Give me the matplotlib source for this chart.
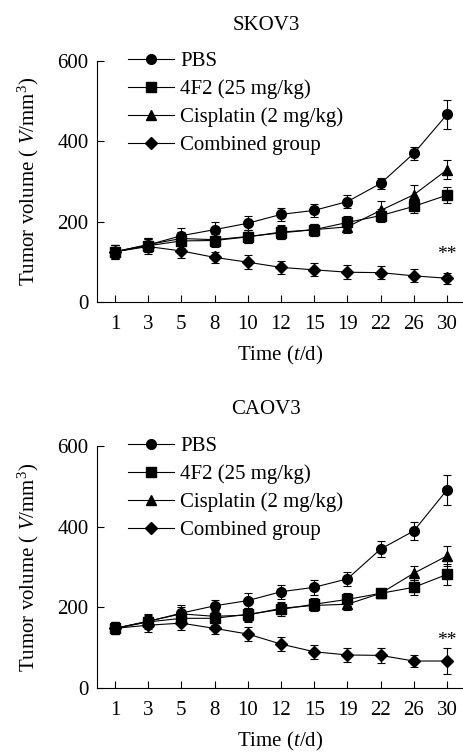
import matplotlib.pyplot as plt

plt.rcParams['font.family'] = 'Liberation Serif'
plt.rcParams['mathtext.fontset'] = 'custom'
plt.rcParams['mathtext.rm'] = 'Liberation Serif'
plt.rcParams['mathtext.it'] = 'Liberation Serif:italic'

days = ['1', '3', '5', '8', '10', '12', '15', '19', '22', '26', '30']
groups = ['PBS', '4F2 (25 mg/kg)', 'Cisplatin (2 mg/kg)', 'Combined group']
markers = ['o', 's', '^', 'D']
msizes = [7, 7, 7.5, 6.5]

# SKOV3
skov3_mean = [
    [125, 142, 165, 180, 196, 218, 228, 250, 295, 370, 467],
    [125, 140, 152, 153, 162, 174, 180, 198, 215, 238, 266],
    [125, 143, 158, 155, 163, 172, 180, 187, 228, 267, 329],
    [125, 138, 127, 111, 99, 86, 80, 74, 73, 65, 59],
]
skov3_err = [
    [18, 18, 18, 18, 17, 16, 16, 17, 14, 16, 36],
    [16, 16, 17, 16, 16, 17, 15, 15, 16, 17, 19],
    [16, 16, 17, 16, 16, 16, 15, 16, 24, 25, 24],
    [18, 18, 18, 14, 17, 17, 16, 18, 16, 16, 14],
]

# CAOV3
caov3_mean = [
    [148, 165, 186, 204, 217, 239, 250, 271, 345, 390, 492],
    [148, 164, 173, 173, 183, 195, 208, 220, 235, 250, 282],
    [148, 166, 184, 178, 181, 198, 205, 208, 235, 285, 328],
    [148, 156, 161, 148, 134, 109, 90, 82, 81, 67, 67],
]
caov3_err = [
    [15, 18, 20, 15, 18, 17, 18, 17, 20, 22, 37],
    [15, 15, 16, 17, 16, 15, 15, 17, 10, 18, 26],
    [15, 15, 16, 15, 16, 15, 15, 15, 10, 18, 25],
    [15, 18, 18, 15, 17, 18, 18, 18, 18, 15, 32],
]

panels = [('SKOV3', skov3_mean, skov3_err), ('CAOV3', caov3_mean, caov3_err)]

fig = plt.figure(figsize=(4.63, 7.53), dpi=100)
ax_rects = [[0.2095, 0.599, 0.7905, 0.32], [0.2095, 0.0863, 0.7905, 0.321]]
title_y = [1 - 25 / 753, 1 - 410 / 753]

x = list(range(len(days)))
for (name, means, errs), rect, ty in zip(panels, ax_rects, title_y):
    ax = fig.add_axes(rect)
    for m, e, mk, ms, lab in zip(means, errs, markers, msizes, groups):
        ax.errorbar(x, m, yerr=e, fmt='none', ecolor='black', elinewidth=0.8,
                    capsize=3, capthick=0.8)
        ax.plot(x, m, color='black', lw=0.8, marker=mk, ms=ms, label=lab)
    ax.text(10, 117, '**', ha='center', va='center', fontsize=14)
    ax.set_xlim(-0.54, 10.48)
    ax.set_ylim(0, 600)
    ax.set_yticks([0, 200, 400, 600])
    ax.set_xticks(x)
    ax.set_xticklabels(days)
    ax.spines['top'].set_visible(False)
    ax.spines['right'].set_visible(False)
    ax.tick_params(direction='in', length=5, width=0.8, labelsize=15)
    ax.tick_params(axis='x', pad=9.5)
    ax.tick_params(axis='y', pad=6)
    ax.set_xlabel('Time ($\\it{t}$/d)', fontsize=15, labelpad=7)
    ax.set_ylabel('Tumor volume ( $\\it{V}$/mm$^3$)', fontsize=15, labelpad=12)
    ax.legend(loc='upper left', bbox_to_anchor=(0.085, 1.04), frameon=False,
              fontsize=15, handlelength=2.2, handletextpad=0.3,
              labelspacing=0.4, borderpad=0, borderaxespad=0)
    fig.text(266 / 463, ty, name, ha='center', va='center', fontsize=15)

fig.savefig('out.png', dpi=100)
